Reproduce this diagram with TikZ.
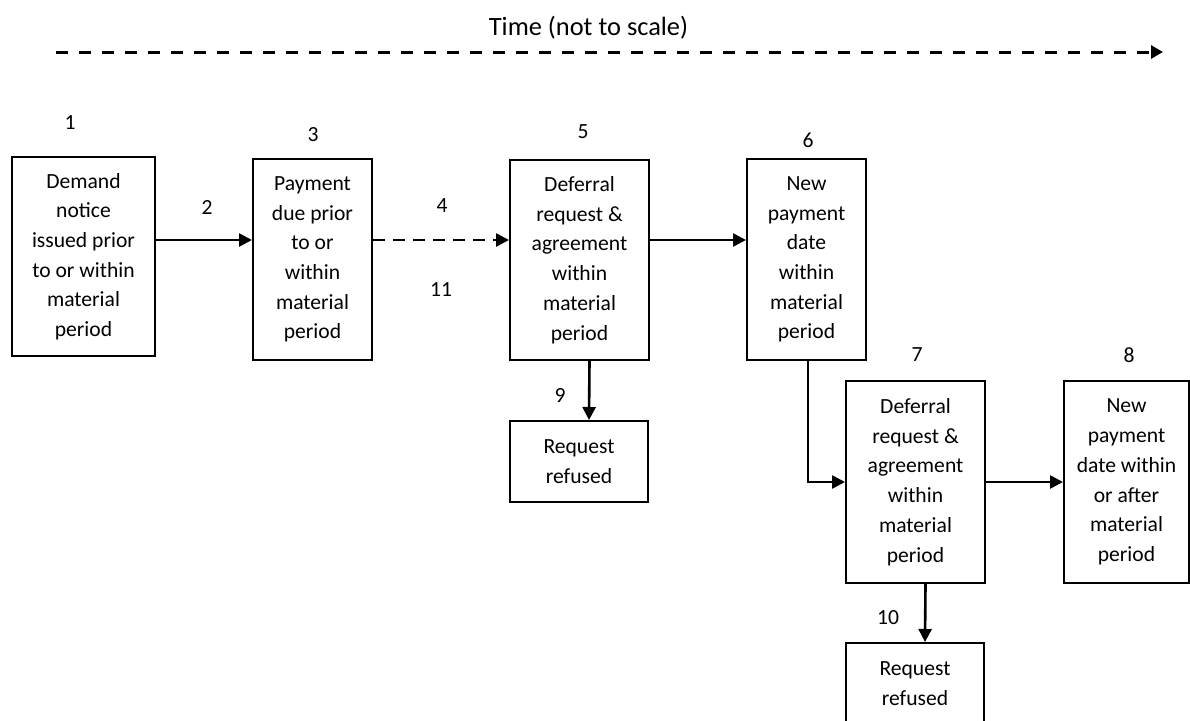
\documentclass[tikz,border=0pt]{standalone}
\usepackage{fontspec}
\setmainfont{Carlito}
\usetikzlibrary{arrows.meta, positioning}
\tikzset{
  stage/.style = {
    draw, line width=2pt, align=center, inner sep=0pt,
    font=\fontsize{21.6}{29.7}\selectfont
  },
  flow/.style = {line width=2.6pt, -{Triangle[length=13pt, width=13pt]}},
  num/.style = {inner sep=0pt, font=\fontsize{21.6}{25}\selectfont}
}

\begin{document}
\begin{tikzpicture}[x=1pt, y=-1pt]

    \useasboundingbox (0,0) rectangle (1190,720);

    %% Time line

    \node[anchor=base, inner sep=0pt, font=\fontsize{26.4}{30}\selectfont]
      (timelabel) at (588.5,35) {Time (not to scale)};
    \coordinate (timestart) at (56,52);
    \coordinate (timeend) at (1163,52);
    \draw[line width=3pt, dash pattern=on 12pt off 11pt,
      -{Triangle[length=12pt, width=13pt]}] (timestart) -- (timeend);

    %% Stages

    % First row
    \node[stage, minimum width=143pt, minimum height=199pt] (notice) at (83.5,256.5)
      {Demand\\notice\\issued prior\\to or within\\material\\period};
    \node[stage, minimum width=119pt, minimum height=201pt] (due) at (312.5,259.5)
      {Payment\\due prior\\to or\\within\\material\\period};
    \node[stage, minimum width=139pt, minimum height=200pt] (defer1) at (579.5,260)
      {Deferral\\request \&\\agreement\\within\\material\\period};
    \node[stage, minimum width=119pt, minimum height=201pt] (newdate1) at (806.5,259.5)
      {New\\payment\\date\\within\\material\\period};

    % Second row
    \node[stage, minimum width=138pt, minimum height=81pt] (refused1) at (579,461.5)
      {Request\\refused};
    \node[stage, minimum width=139pt, minimum height=202pt] (defer2) at (915.5,482)
      {Deferral\\request \&\\agreement\\within\\material\\period};
    \node[stage, minimum width=125pt, minimum height=202pt] (newdate2) at (1126.5,482)
      {New\\payment\\date within\\or after\\material\\period};

    % Third row
    \node[stage, minimum width=138pt, minimum height=81pt] (refused2) at (915,683.5)
      {Request\\refused};

    %% Numbers

    \node[num] (n1) at (70,123) {1};
    \node[num] (n2) at (207,207) {2};
    \node[num] (n3) at (313,135) {3};
    \node[num] (n4) at (442,206) {4};
    \node[num] (n5) at (583,132) {5};
    \node[num] (n6) at (808,140) {6};
    \node[num] (n7) at (917,355) {7};
    \node[num] (n8) at (1129,355) {8};
    \node[num] (n9) at (560,395) {9};
    \node[num] (n10) at (888,618) {10};
    \node[num] (n11) at (441,290) {11};

    %% Arrows

    \coordinate (mainrow) at (0,240);
    \draw[flow] (notice.east |- mainrow) -- (due.west |- mainrow);
    \draw[flow, dash pattern=on 12pt off 8pt] (due.east |- mainrow) -- (defer1.west |- mainrow);
    \draw[flow] (defer1.east |- mainrow) -- (newdate1.west |- mainrow);
    \draw[flow] ([xshift=10pt]defer1.south) -- ([xshift=10pt]refused1.north);
    \draw[flow] ([xshift=1.5pt]newdate1.south) |- (defer2.west);
    \draw[flow] (defer2.east) -- (newdate2.west);
    \draw[flow] ([xshift=10pt]defer2.south) -- ([xshift=10pt]refused2.north);

\end{tikzpicture}
\end{document}
